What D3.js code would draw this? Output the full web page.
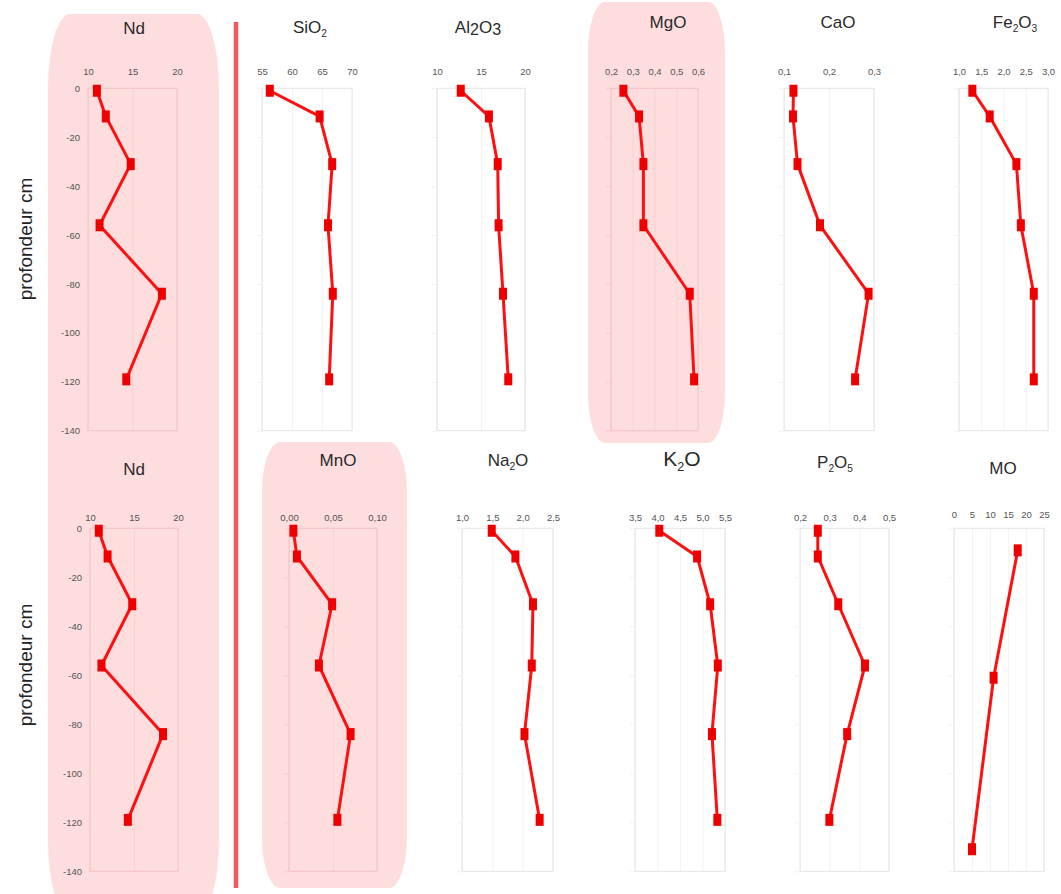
<!DOCTYPE html>
<html>
<head>
<meta charset="utf-8">
<script src="https://cdn.jsdelivr.net/npm/d3@7"></script>
<style>
  html, body { margin: 0; padding: 0; background: #fff; }
  svg { display: block; font-family: "Liberation Sans", Arial, sans-serif; }
</style>
</head>
<body>
<svg id="chart" width="1061" height="894"></svg>
<script>
// ---------------- DATA ----------------
const depths   = [-1, -11.5, -31, -56, -84, -119];
const moDepths = [-9, -61, -131];
const depthTicks = [0, -20, -40, -60, -80, -100, -120, -140];

const Nd    = [11.0, 12.0, 14.8, 11.3, 18.3, 14.3];
const SiO2  = [56.3, 64.6, 66.7, 66.0, 66.8, 66.2];
const Al2O3 = [12.7, 15.9, 16.9, 17.0, 17.5, 18.1];
const MgO   = [0.257, 0.329, 0.349, 0.349, 0.562, 0.582];
const CaO   = [0.121, 0.120, 0.130, 0.180, 0.288, 0.258];
const Fe2O3 = [1.30, 1.69, 2.29, 2.39, 2.68, 2.68];
const MnO   = [0.005, 0.009, 0.049, 0.034, 0.070, 0.055];
const Na2O  = [1.49, 1.88, 2.17, 2.15, 2.03, 2.28];
const K2O   = [4.04, 4.88, 5.17, 5.34, 5.21, 5.33];
const P2O5  = [0.26, 0.26, 0.329, 0.419, 0.359, 0.299];
const MO    = [17.7, 11.0, 5.0];

const ticksNd    = [10, 15, 20];
const ticksSiO2  = [55, 60, 65, 70];
const ticksAl2O3 = [10, 15, 20];
const ticksMgO   = [0.2, 0.3, 0.4, 0.5, 0.6];
const ticksCaO   = [0.1, 0.2, 0.3];
const ticksFe2O3 = [1.0, 1.5, 2.0, 2.5, 3.0];
const ticksMnO   = [0, 0.05, 0.10];
const ticksNa2O  = [1.0, 1.5, 2.0, 2.5];
const ticksK2O   = [3.5, 4.0, 4.5, 5.0, 5.5];
const ticksP2O5  = [0.2, 0.3, 0.4, 0.5];
const ticksMO    = [0, 5, 10, 15, 20, 25];

// ---------------- LAYOUT ----------------
const fr = d3.formatLocale({decimal: ",", thousands: " ", grouping: [3], currency: ["", "€"]});
const f0 = fr.format("d"), f1 = fr.format(".1f"), f2 = fr.format(".2f");

const rows = [
  {y0: 88.3, y1: 430.7, tickY: 75},
  {y0: 528.3, y1: 871.3, tickY: 521}
];

// title parts: [text, kind] kind 0 normal, 1 subscript, 2 lowered digit
const panels = [
  {row: 0, vals: Nd,    dep: depths, ticks: ticksNd,    fmt: f0, x0: 88,  x1: 177, title: [["Nd",0]], tx: 134, ty: 34, pink: true, yLabels: true},
  {row: 0, vals: SiO2,  dep: depths, ticks: ticksSiO2,  fmt: f0, x0: 262, x1: 352, title: [["SiO",0],["2",1]], tx: 310, ty: 33},
  {row: 0, vals: Al2O3, dep: depths, ticks: ticksAl2O3, fmt: f0, x0: 437, x1: 525, title: [["Al",0],["2",2],["O",0],["3",2]], tx: 478, ty: 33},
  {row: 0, vals: MgO,   dep: depths, ticks: ticksMgO,   fmt: f1, x0: 611, x1: 698, title: [["MgO",0]], tx: 668, ty: 28, pink: true},
  {row: 0, vals: CaO,   dep: depths, ticks: ticksCaO,   fmt: f1, x0: 784, x1: 874, title: [["CaO",0]], tx: 838, ty: 28},
  {row: 0, vals: Fe2O3, dep: depths, ticks: ticksFe2O3, fmt: f1, x0: 959, x1: 1048, title: [["Fe",0],["2",1],["O",0],["3",1]], tx: 1015, ty: 28},
  {row: 1, vals: Nd,    dep: depths, ticks: ticksNd,    fmt: f0, x0: 90,  x1: 178, title: [["Nd",0]], tx: 134, ty: 475, pink: true, yLabels: true},
  {row: 1, vals: MnO,   dep: depths, ticks: ticksMnO,   fmt: f2, x0: 289, x1: 377, title: [["MnO",0]], tx: 338, ty: 466, pink: true},
  {row: 1, vals: Na2O,  dep: depths, ticks: ticksNa2O,  fmt: f1, x0: 462, x1: 553, title: [["Na",0],["2",1],["O",0]], tx: 508, ty: 466},
  {row: 1, vals: K2O,   dep: depths, ticks: ticksK2O,   fmt: f1, x0: 635, x1: 725, title: [["K",0],["2",1],["O",0]], tx: 682, ty: 466, big: true},
  {row: 1, vals: P2O5,  dep: depths, ticks: ticksP2O5,  fmt: f1, x0: 800, x1: 889, title: [["P",0],["2",1],["O",0],["5",1]], tx: 835, ty: 468},
  {row: 1, vals: MO,    dep: moDepths, ticks: ticksMO,  fmt: f0, x0: 954, x1: 1044, title: [["MO",0]], tx: 1003, ty: 474, tickDy: -3}
];

const svg = d3.select("#chart");
const PINK = "#fddddd";

function barrel(x0, y0, x1, y1, rx, ry) {
  return `M${x0 + rx},${y0} H${x1 - rx} A${rx} ${ry} 0 0 1 ${x1},${y0 + ry} V${y1 - ry} ` +
         `A${rx} ${ry} 0 0 1 ${x1 - rx},${y1} H${x0 + rx} A${rx} ${ry} 0 0 1 ${x0},${y1 - ry} ` +
         `V${y0 + ry} A${rx} ${ry} 0 0 1 ${x0 + rx},${y0} Z`;
}

// pink highlight shapes
svg.append("path").attr("d", barrel(48, 14, 219, 915, 22, 75)).attr("fill", PINK);
svg.append("path").attr("d", barrel(588, 2, 725, 443, 17, 50)).attr("fill", PINK);
svg.append("path").attr("d", barrel(262, 442, 407, 888, 18, 50)).attr("fill", PINK);

// vertical red separator
svg.append("line").attr("x1", 236).attr("x2", 236).attr("y1", 22).attr("y2", 888)
  .attr("stroke", "#f45a5a").attr("stroke-width", 4.5);

// depth labels
[[25, 239], [25, 665]].forEach(([x, y]) => {
  svg.append("text").attr("transform", `translate(${x},${y}) rotate(-90)`)
    .attr("text-anchor", "middle").attr("dy", "0.35em")
    .attr("font-size", 19).attr("fill", "#222").text("profondeur cm");
});

panels.forEach(p => {
  const r = rows[p.row];
  const x = d3.scaleLinear().domain([p.ticks[0], p.ticks[p.ticks.length - 1]]).range([p.x0, p.x1]);
  const y = d3.scaleLinear().domain([0, -140]).range([r.y0, r.y1]);
  const g = svg.append("g");
  const gridCol = p.pink ? "#f9d3d3" : "#f3f3f3";
  const frameCol = p.pink ? "#f3c4c4" : "#e4e4e4";

  // gridlines
  g.append("g").attr("transform", `translate(0,${r.y0})`)
    .call(d3.axisBottom(x).tickValues(p.ticks).tickSize(r.y1 - r.y0).tickFormat(""))
    .call(a => a.select(".domain").remove())
    .call(a => a.selectAll("line").attr("stroke", gridCol).attr("stroke-width", 1));

  // frame
  g.append("rect").attr("x", p.x0).attr("y", r.y0).attr("width", p.x1 - p.x0).attr("height", r.y1 - r.y0)
    .attr("fill", "none").attr("stroke", frameCol).attr("stroke-width", 1);

  // x tick labels
  g.append("g").attr("transform", `translate(0,${r.tickY + (p.tickDy || 0)})`)
    .call(d3.axisTop(x).tickValues(p.ticks).tickSize(0).tickPadding(0).tickFormat(p.fmt))
    .call(a => a.select(".domain").remove())
    .call(a => a.selectAll("text").attr("font-size", 9.5).attr("fill", "#555")
      .attr("font-family", "Liberation Sans, Arial, sans-serif"));

  // y axis
  if (p.yLabels) {
    g.append("g").attr("transform", `translate(${p.x0 - 8},0)`)
      .call(d3.axisLeft(y).tickValues(depthTicks).tickSize(0).tickPadding(0).tickFormat(d => String(d)))
      .call(a => a.select(".domain").remove())
      .call(a => a.selectAll("text").attr("font-size", 9.5).attr("fill", "#555")
        .attr("font-family", "Liberation Sans, Arial, sans-serif"));
  } else {
    g.append("g").attr("transform", `translate(${p.x0},0)`)
      .call(d3.axisLeft(y).tickValues(depthTicks).tickSize(5).tickFormat(""))
      .call(a => a.select(".domain").remove())
      .call(a => a.selectAll("line").attr("stroke", p.pink ? "#f5cccc" : "#f0f0f0"));
  }

  // line
  const pts = p.vals.map((v, i) => [v, p.dep[i]]);
  g.append("path").datum(pts)
    .attr("d", d3.line().x(d => x(d[0])).y(d => y(d[1])))
    .attr("fill", "none").attr("stroke", "#ff1010").attr("stroke-width", 3).attr("stroke-linejoin", "round");

  // markers
  g.selectAll("rect.m").data(pts).join("rect").attr("class", "m")
    .attr("x", d => x(d[0]) - 4).attr("y", d => y(d[1]) - 6)
    .attr("width", 8).attr("height", 12).attr("fill", "#ee0000");

  // title
  const fs = p.big ? 21 : 17;
  const t = g.append("text").attr("x", p.tx).attr("y", p.ty).attr("text-anchor", "middle")
    .attr("font-size", fs).attr("fill", "#2a2a2a");
  let cur = 0;
  p.title.forEach(([s, kind]) => {
    const ts = t.append("tspan").text(s);
    const target = kind === 1 ? fs * 0.25 : kind === 2 ? fs * 0.12 : 0;
    if (kind === 1) ts.attr("font-size", fs * 0.6);
    else if (kind === 2) ts.attr("font-size", fs * 0.95);
    ts.attr("dy", target - cur);
    cur = target;
  });
});
</script>
</body>
</html>
